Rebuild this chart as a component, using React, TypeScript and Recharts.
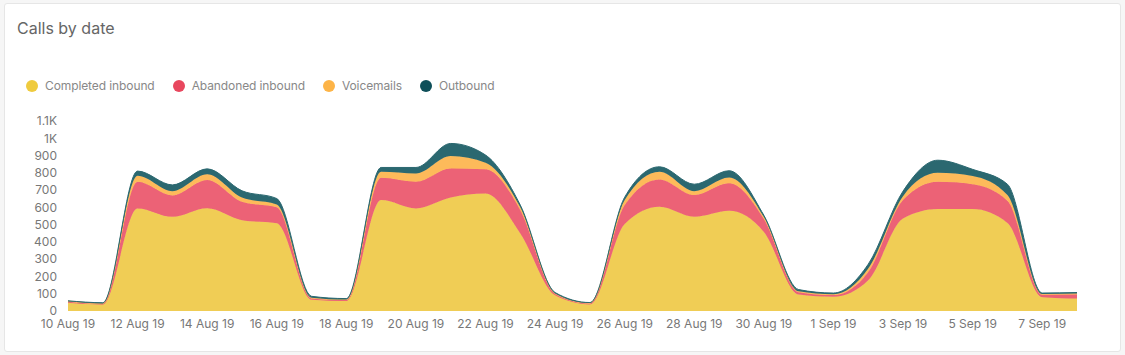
import React from 'react'
import { AreaChart, Area, XAxis, YAxis } from 'recharts'

const dates = [
  '10 Aug 19', '11 Aug 19', '12 Aug 19', '13 Aug 19', '14 Aug 19', '15 Aug 19',
  '16 Aug 19', '17 Aug 19', '18 Aug 19', '19 Aug 19', '20 Aug 19', '21 Aug 19',
  '22 Aug 19', '23 Aug 19', '24 Aug 19', '25 Aug 19', '26 Aug 19', '27 Aug 19',
  '28 Aug 19', '29 Aug 19', '30 Aug 19', '31 Aug 19', '1 Sep 19', '2 Sep 19',
  '3 Sep 19', '4 Sep 19', '5 Sep 19', '6 Sep 19', '7 Sep 19', '8 Sep 19',
]

const completedInbound = [
  48, 38, 594, 545, 595, 526, 508, 65, 58, 642, 594, 657, 680, 449, 91,
  38, 503, 603, 545, 580, 458, 95, 82, 178, 535, 590, 590, 510, 80, 72,
]
const abandonedInbound = [
  6, 4, 154, 124, 163, 106, 92, 8, 5, 129, 154, 168, 140, 135, 8,
  6, 110, 159, 126, 159, 74, 14, 10, 48, 107, 158, 144, 128, 14, 23,
]
const voicemails = [
  3, 2, 35, 25, 34, 25, 16, 4, 3, 35, 48, 72, 38, 16, 3,
  2, 29, 44, 23, 34, 12, 5, 5, 20, 23, 52, 47, 33, 4, 6,
]
const outbound = [
  2, 4, 27, 36, 31, 39, 35, 8, 6, 25, 35, 73, 45, 13, 5,
  3, 17, 29, 40, 39, 10, 10, 7, 25, 29, 73, 39, 63, 6, 6,
]

const yTicks = [0, 100, 200, 300, 400, 500, 600, 700, 800, 900, 1000, 1100]

const series = [
  { key: 'completed', name: 'Completed inbound', fill: '#F0CD55', dot: '#EFCB3E' },
  { key: 'abandoned', name: 'Abandoned inbound', fill: '#EC6276', dot: '#E8475E' },
  { key: 'voicemails', name: 'Voicemails', fill: '#FDBA5A', dot: '#FDB447' },
  { key: 'outbound', name: 'Outbound', fill: '#2B6870', dot: '#0E4F59' },
]

const data = dates.map((date, i) => ({
  date,
  completed: completedInbound[i],
  abandoned: abandonedInbound[i],
  voicemails: voicemails[i],
  outbound: outbound[i],
}))

const fontFamily = 'Inter, "Noto Sans", sans-serif'

const formatY = (v: number) => (v >= 1000 ? `${v / 1000}K` : `${v}`)

export default function App() {
  return (
    <div style={{ position: 'fixed', inset: 0, background: '#f6f6f6', fontFamily }}>
      <div
        style={{
          position: 'absolute',
          left: 4,
          top: 3,
          width: 1115,
          height: 347,
          background: '#fff',
          border: '1px solid #e6e6e6',
          borderRadius: 3,
        }}
      />
      <div style={{ position: 'absolute', left: 17, top: 18, fontSize: 16, color: '#666' }}>
        Calls by date
      </div>
      <div style={{ position: 'absolute', left: 26, top: 78, display: 'flex', alignItems: 'center' }}>
        {series.map(s => (
          <div key={s.key} style={{ display: 'flex', alignItems: 'center', marginRight: 18 }}>
            <span
              style={{
                width: 12,
                height: 12,
                borderRadius: '50%',
                background: s.dot,
                display: 'inline-block',
                marginRight: 7,
              }}
            />
            <span style={{ fontSize: 12, color: '#888', letterSpacing: -0.1 }}>{s.name}</span>
          </div>
        ))}
      </div>
      <div style={{ position: 'absolute', left: 0, top: 0 }}>
        <AreaChart
          width={1125}
          height={355}
          data={data}
          margin={{ top: 121, right: 48, bottom: 14, left: 18 }}
        >
          <XAxis
            dataKey="date"
            interval={1}
            axisLine={false}
            tickLine={false}
            tickSize={0}
            tickMargin={8}
            height={30}
            tick={{ fontSize: 12, fill: '#777', fontFamily }}
          />
          <YAxis
            domain={[0, 1100]}
            ticks={yTicks}
            tickFormatter={formatY}
            axisLine={false}
            tickLine={false}
            tickSize={0}
            tickMargin={11}
            width={50}
            interval={0}
            tick={{ fontSize: 12, fill: '#777', fontFamily }}
          />
          {series.map(s => (
            <Area
              key={s.key}
              type="monotone"
              dataKey={s.key}
              name={s.name}
              stackId="1"
              fill={s.fill}
              fillOpacity={1}
              stroke={s.fill}
              strokeWidth={1}
              isAnimationActive={false}
            />
          ))}
        </AreaChart>
      </div>
    </div>
  )
}
